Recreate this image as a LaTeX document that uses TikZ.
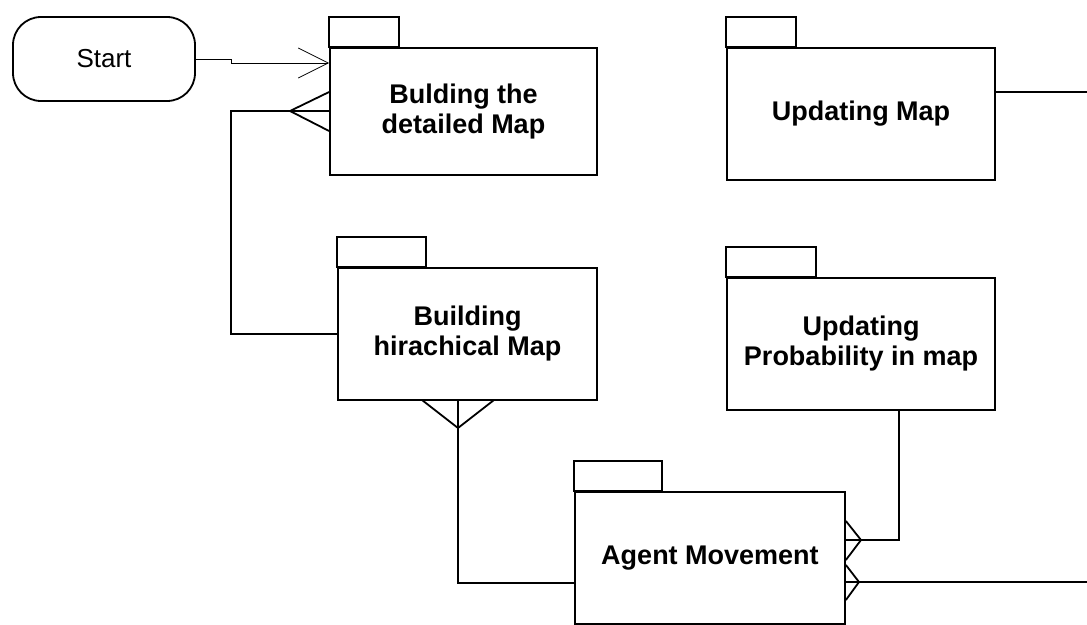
\documentclass[tikz,border=0pt]{standalone}
\usepackage{fontspec}
\setmainfont{Liberation Sans}
\usetikzlibrary{arrows.meta}

\tikzset{
  pkg/.style={draw, line width=1.8pt, align=center, inner sep=0pt,
    font=\bfseries\fontsize{27}{30}\selectfont},
  startbox/.style={draw, line width=1.8pt, rounded corners=28pt,
    minimum width=182pt, minimum height=84pt, font=\fontsize{26}{31}\selectfont},
  link/.style={line width=1.8pt},
}
% little tab on top of a package box
\newcommand{\pkgtab}[2]{\draw[line width=1.8pt] (#1.north west) rectangle ++(#2,-30);}

\begin{document}
\begin{tikzpicture}[x=1pt,y=-1pt]
  \useasboundingbox (0,0) rectangle (1087,624);

  \node[startbox] (start) at (104,59) {Start};

  \node[pkg, minimum width=267pt, minimum height=127pt] (detmap) at (463.5,111.5) {Bulding the\\detailed Map};
  \node[pkg, minimum width=268pt, minimum height=132pt] (updmap) at (861,114) {Updating Map};
  \node[pkg, minimum width=259pt, minimum height=132pt] (hiermap) at (467.5,334) {Building\\hirachical Map};
  \node[pkg, minimum width=268pt, minimum height=132pt] (probmap) at (861,344) {Updating\\Probability in map};
  \node[pkg, minimum width=270pt, minimum height=132pt] (agent) at (710,558) {Agent Movement};

  \pkgtab{detmap}{70}
  \pkgtab{updmap}{70}
  \pkgtab{hiermap}{89}
  \pkgtab{probmap}{90}
  \pkgtab{agent}{88}

  % start arrow
  \draw[line width=0.8pt, -{Straight Barb[length=30pt,width=30pt,line width=0.8pt]}]
    (start.east) -- ++(35,0) -- ++(0,4) -- (detmap.west |- 0,63);

  % hierarchical map back to detailed map
  \draw[link] (hiermap.west) -- ++(-106,0) |- (detmap.west |- 0,111);
  \draw[link] (detmap.west |- 0,92) -- (290,111) -- (detmap.west |- 0,131);

  % hierarchical map down to agent movement
  \draw[link] (hiermap.south -| 458,0) |- (agent.west |- 0,583);
  \draw[link] (422,400) -- (458,428) -- (494,400);

  % probability to agent movement
  \draw[link] (probmap.south -| 899,0) |- (agent.east |- 0,540);
  \draw[link] (agent.east |- 0,521) -- (861,540) -- (agent.east |- 0,560);

  % lines leaving to the right
  \coordinate (rimtop) at (1087,92);
  \coordinate (rimbot) at (1087,582);
  \draw[link] (updmap.east |- 0,92) -- (rimtop);
  \draw[link] (agent.east |- 0,582) -- (rimbot);
  \draw[link] (agent.east |- 0,565) -- (859,582) -- (agent.east |- 0,600);
\end{tikzpicture}
\end{document}
